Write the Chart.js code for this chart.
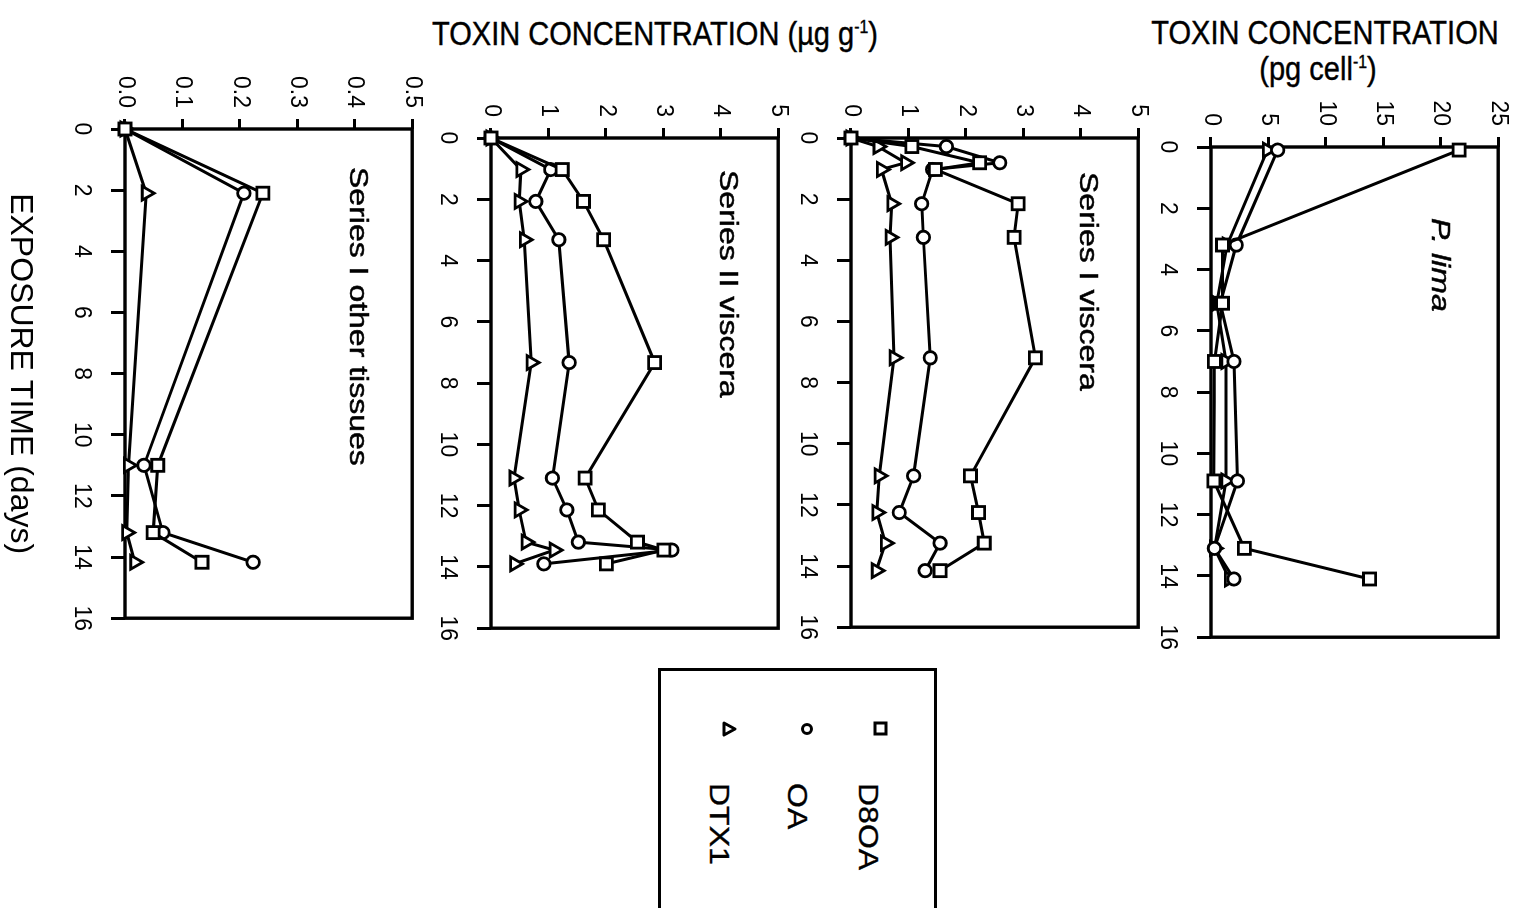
<!DOCTYPE html>
<html lang="en">
<head>
<meta charset="UTF-8">
<title>Toxin concentration vs exposure time</title>
<script src="https://cdn.jsdelivr.net/npm/chart.js"></script>
<style>
  html, body { margin: 0; padding: 0; background: #fff; }
  body { width: 1520px; height: 908px; overflow: hidden; position: relative;
         font-family: "Liberation Sans", Arial, sans-serif; color: #000; }
  .ytitle { position: absolute; font-size: 33px; line-height: 1; white-space: nowrap;
            transform: translateX(-50%) scaleX(0.88); -webkit-text-stroke: 0.4px #000; }
  .ytitle sup { font-size: 18px; vertical-align: 12px; line-height: 0; }
  /* the figure is laid out upright, then turned a quarter clockwise */
  #sheet { position: absolute; left: 0; top: 0; width: 908px; height: 1520px;
           transform-origin: 0 0; transform: translateX(1520px) rotate(90deg); }
  #sheet canvas { position: absolute; }
  .legend { position: absolute; left: 668px; top: 583px; width: 320px; height: 279px;
            border: 3px solid #000; box-sizing: border-box; }
  .legend svg { position: absolute; left: 48px; }
  .legend .lbl { position: absolute; left: 112px; font-size: 32px; line-height: 1;
                 transform-origin: 0 27px; transform: scaleY(0.86); -webkit-text-stroke: 0.4px #000; }
</style>
</head>
<body>

<div class="ytitle" style="left:1325px; top:16px;">TOXIN CONCENTRATION</div>
<div class="ytitle" style="left:1318px; top:52px;">(pg cell<sup>-1</sup>)</div>
<div class="ytitle" style="left:655px; top:17px;">TOXIN CONCENTRATION (µg g<sup>-1</sup>)</div>

<div id="sheet">
  <canvas id="lima"></canvas>
  <canvas id="visc1"></canvas>
  <canvas id="visc2"></canvas>
  <canvas id="other"></canvas>

  <div class="legend">
    <svg width="20" height="20" style="top:44px" viewBox="0 0 20 20"><rect x="4" y="4" width="11" height="11" fill="#fff" stroke="#000" stroke-width="3"/></svg>
    <div class="lbl" style="top:48px">D8OA</div>
    <svg width="20" height="20" style="top:117px" viewBox="0 0 20 20"><circle cx="10" cy="10" r="4.5" fill="#fff" stroke="#000" stroke-width="3"/></svg>
    <div class="lbl" style="top:119px">OA</div>
    <svg width="20" height="20" style="top:195px" viewBox="0 0 20 20"><polygon points="10,4 16,15 4,15" fill="#fff" stroke="#000" stroke-width="3" stroke-linejoin="round"/></svg>
    <div class="lbl" style="top:197px">DTX1</div>
  </div>
</div>

<script>
  // P. lima cultures (pg per cell)
  const limaDays = [0.1, 3.2, 5.1, 7.0, 10.9, 13.1, 14.1];
  const limaD8OA = [21.6, 1.0, 1.0, 0.3, 0.25, 2.9, 13.8];
  const limaOA   = [5.8, 2.2, 0.8, 2.0, 2.3, 0.3, 2.0];
  const limaDTX1 = [4.9, 1.4, 0.5, 1.3, 1.3, 0.3, 1.6];

  // series I viscera (ug per g)
  const visc1Days = [0, 0.28, 0.81, 1.03, 2.15, 3.25, 7.19, 11.05, 12.25, 13.25, 14.15];
  const visc1D8OA = [0, 1.06, 2.24, 1.47, 2.91, 2.84, 3.21, 2.08, 2.22, 2.32, 1.55];
  const visc1OA   = [0, 1.66, 2.59, 1.42, 1.23, 1.26, 1.38, 1.09, 0.84, 1.55, 1.29];
  const visc1DTX1 = [0, 0.47, 0.95, 0.53, 0.71, 0.68, 0.75, 0.49, 0.45, 0.60, 0.44];

  // series II viscera
  const visc2Days = [0, 1.03, 2.07, 3.32, 7.33, 11.1, 12.14, 13.19, 13.45, 13.9];
  const visc2D8OA = [0, 1.24, 1.61, 1.96, 2.85, 1.64, 1.87, 2.55, 3.01, 2.01];
  const visc2OA   = [0, 1.04, 0.78, 1.18, 1.36, 1.07, 1.32, 1.52, 3.15, 0.92];
  const visc2DTX1 = [0, 0.52, 0.49, 0.58, 0.70, 0.40, 0.49, 0.61, 1.10, 0.41];

  // series I other tissues
  const otherDays = [0, 2.1, 11.0, 13.2, 14.17];
  const otherD8OA = [0, 0.240, 0.057, 0.049, 0.134];
  const otherOA   = [0, 0.207, 0.033, 0.066, 0.223];
  const otherDTX1 = [0, 0.037, 0.006, 0.003, 0.017];

  const toxins = ['D8OA', 'OA', 'DTX1'];
  const dayTicks = [0, 2, 4, 6, 8, 10, 12, 14, 16];
  const limaTicks = [0, 5, 10, 15, 20, 25];
  const visceraTicks = [0, 1, 2, 3, 4, 5];
  const otherTicks = [0, 0.1, 0.2, 0.3, 0.4, 0.5];

  const FONT = '"Liberation Sans", Arial, sans-serif';
  Chart.defaults.font.family = FONT;
  Chart.defaults.color = '#000';

  const markers = ['rect', 'circle', 'triangle'];
  const radii = [8.5, 6.2, 8];

  // box round the plot area and the panel caption inside it
  const panelDecor = {
    id: 'panelDecor',
    beforeDatasetsDraw(chart, args, opts) {
      const a = chart.chartArea, ctx = chart.ctx;
      ctx.save();
      ctx.strokeStyle = '#000';
      ctx.lineWidth = 3.4;
      ctx.strokeRect(a.left, a.top, a.right - a.left, a.bottom - a.top);
      ctx.fillStyle = '#000';
      ctx.strokeStyle = '#000';
      ctx.lineWidth = 0.6;
      ctx.font = (opts.italic ? 'italic ' : '') + '32px ' + FONT;
      ctx.textBaseline = 'alphabetic';
      ctx.translate(a.left + opts.dx, a.top + opts.dy);
      ctx.scale(1, 0.8);
      ctx.fillText(opts.text, 0, 0);
      ctx.strokeText(opts.text, 0, 0);
      ctx.restore();
    }
  };

  const AX_Y = 90, PAD_T = 20, PAD_R = 20;

  function makePanel(id, p) {
    const canvas = document.getElementById(id);
    const W = AX_Y + p.w + PAD_R, H = PAD_T + p.h + p.axisX;
    canvas.width = W; canvas.height = H;
    canvas.style.width = W + 'px'; canvas.style.height = H + 'px';
    canvas.style.left = (p.u - AX_Y) + 'px';
    canvas.style.top = (p.v - PAD_T) + 'px';

    return new Chart(canvas, {
      type: 'scatter',
      data: {
        datasets: toxins.map((name, i) => ({
          label: name,
          data: p.days.map((d, k) => ({ x: d, y: p.values[i][k] })),
          showLine: true,
          borderColor: '#000',
          borderWidth: 3,
          pointStyle: markers[i],
          pointRadius: radii[i],
          pointBackgroundColor: '#fff',
          pointBorderColor: '#000',
          pointBorderWidth: 2.8,
          clip: false
        }))
      },
      options: {
        responsive: false,
        animation: false,
        layout: { autoPadding: false, padding: { left: 0, top: PAD_T, right: PAD_R, bottom: 0 } },
        plugins: {
          legend: { display: false },
          tooltip: { enabled: false },
          panelDecor: p.caption
        },
        scales: {
          x: {
            type: 'linear', min: 0, max: 16,
            afterBuildTicks: s => { s.ticks = dayTicks.map(v => ({ value: v })); },
            afterFit: s => { s.height = p.axisX; },
            border: { display: false },
            grid: { drawOnChartArea: false, drawTicks: true, tickLength: 14, color: '#000', lineWidth: 3 },
            ticks: { color: '#000', font: { size: 23 }, padding: 16, maxRotation: 0, autoSkip: false },
            title: p.xTitle ? {
              display: true, text: p.xTitle, color: '#000',
              font: { size: 32 }, padding: { top: 0, bottom: 16 }
            } : { display: false }
          },
          y: {
            type: 'linear', min: 0, max: p.ticks[p.ticks.length - 1],
            afterBuildTicks: s => { s.ticks = p.ticks.map(v => ({ value: v })); },
            afterFit: s => { s.width = AX_Y; },
            border: { display: false },
            grid: { drawOnChartArea: false, drawTicks: true, tickLength: 10, color: '#000', lineWidth: 3 },
            ticks: { color: '#000', font: { size: 23 }, padding: 11, autoSkip: false,
                     callback: v => p.decimals ? Number(v).toFixed(p.decimals) : String(v) }
          }
        }
      },
      plugins: [panelDecor]
    });
  }

  makePanel('lima', {
    u: 147, v: 17, w: 499, h: 292, axisX: 70,
    days: limaDays, values: [limaD8OA, limaOA, limaDTX1], ticks: limaTicks,
    caption: { text: 'P. lima', italic: true, dx: 71, dy: 66 }
  });
  makePanel('visc1', {
    u: 138, v: 377, w: 498, h: 292, axisX: 70,
    days: visc1Days, values: [visc1D8OA, visc1OA, visc1DTX1], ticks: visceraTicks,
    caption: { text: 'Series I viscera', dx: 34, dy: 58 }
  });
  makePanel('visc2', {
    u: 138, v: 737, w: 499, h: 292, axisX: 70,
    days: visc2Days, values: [visc2D8OA, visc2OA, visc2DTX1], ticks: visceraTicks,
    caption: { text: 'Series II viscera', dx: 32, dy: 58 }
  });
  makePanel('other', {
    u: 129, v: 1103, w: 498, h: 292, axisX: 140,
    days: otherDays, values: [otherD8OA, otherOA, otherDTX1], ticks: otherTicks, decimals: 1,
    caption: { text: 'Series I other tissues', dx: 38, dy: 62 },
    xTitle: 'EXPOSURE TIME (days)'
  });
</script>
</body>
</html>
